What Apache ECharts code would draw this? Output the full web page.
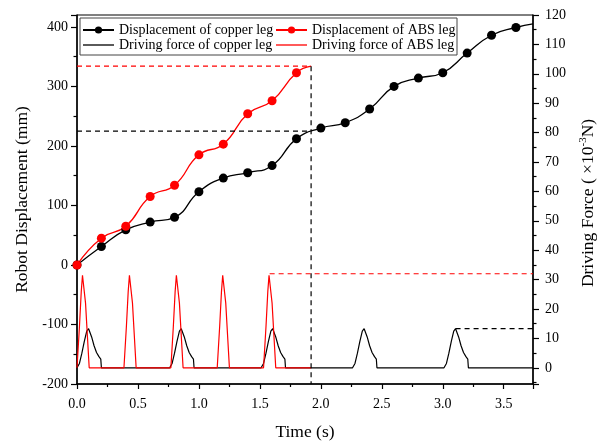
<!DOCTYPE html>
<html>
<head>
<meta charset="utf-8">
<script src="https://cdn.jsdelivr.net/npm/echarts@6/dist/echarts.min.js"></script>
<style>
html, body { margin: 0; padding: 0; background: #fff; }
#chart { width: 599px; height: 441px; }
</style>
</head>
<body>
<div id="chart"></div>
<script>
// robot displacement, sampled every 0.2 s (mm)
var copperTime = [0, 0.2, 0.4, 0.6, 0.8, 1.0, 1.2, 1.4, 1.6, 1.8, 2.0, 2.2, 2.4, 2.6, 2.8, 3.0, 3.2, 3.4, 3.6]
var copperDisp = [0, 31, 59, 72, 80, 123, 146, 155, 167, 212, 230, 239, 262, 300, 314, 323, 356, 386, 399]
var copperTail = [3.74, 405]
var absTime = [0, 0.2, 0.4, 0.6, 0.8, 1.0, 1.2, 1.4, 1.6, 1.8]
var absDisp = [0, 45, 65, 115, 134, 185, 203, 254, 276, 323]
var absTail = [1.92, 334]
// copper displacement at the moment the ABS run stops
var copperAtAbsEnd = 225

// driving force (x10^-3 N)
var copperForceTime = [
    0, 0.02, 0.04, 0.06, 0.08, 0.095, 0.105, 0.12, 0.14, 0.16, 0.18, 0.195, 0.2,
    0.76, 0.78, 0.80, 0.82, 0.84, 0.855, 0.865, 0.88, 0.90, 0.92, 0.94, 0.955, 0.96,
    1.51, 1.53, 1.55, 1.57, 1.59, 1.605, 1.615, 1.63, 1.65, 1.67, 1.69, 1.705, 1.71,
    2.26, 2.28, 2.30, 2.32, 2.34, 2.355, 2.365, 2.38, 2.40, 2.42, 2.44, 2.455, 2.46,
    3.01, 3.03, 3.05, 3.07, 3.09, 3.105, 3.115, 3.13, 3.15, 3.17, 3.19, 3.205, 3.21,
    3.74
]
var copperForce = [
    0, 1.5, 5, 9, 12.5, 13.3, 12.7, 10.5, 7.5, 5.2, 3.8, 3, 0,
    0, 1.5, 5, 9, 12.5, 13.3, 12.7, 10.5, 7.5, 5.2, 3.8, 3, 0,
    0, 1.5, 5, 9, 12.5, 13.3, 12.7, 10.5, 7.5, 5.2, 3.8, 3, 0,
    0, 1.5, 5, 9, 12.5, 13.3, 12.7, 10.5, 7.5, 5.2, 3.8, 3, 0,
    0, 1.5, 5, 9, 12.5, 13.3, 12.7, 10.5, 7.5, 5.2, 3.8, 3, 0,
    0
]
var absForceTime = [
    0, 0.02, 0.035, 0.045, 0.05, 0.057, 0.07, 0.085, 0.1,
    0.385, 0.405, 0.42, 0.43, 0.435, 0.442, 0.455, 0.47, 0.485,
    0.77, 0.79, 0.805, 0.815, 0.82, 0.827, 0.84, 0.855, 0.87,
    1.15, 1.17, 1.185, 1.195, 1.2, 1.207, 1.22, 1.235, 1.25,
    1.53, 1.55, 1.565, 1.575, 1.58, 1.587, 1.60, 1.615, 1.63,
    1.92
]
var absForce = [
    0, 14, 26, 31.5, 32, 31, 22, 11, 0,
    0, 14, 26, 31.5, 32, 31, 22, 11, 0,
    0, 14, 26, 31.5, 32, 31, 22, 11, 0,
    0, 14, 26, 31.5, 32, 31, 22, 11, 0,
    0, 14, 26, 31.5, 32, 31, 22, 11, 0,
    0
]
var absForcePeakTime = 1.58
var copperForcePeakTime = 3.105

var xMax = 3.74
var yMin = -200

function pairs(ts, vs) {
    return ts.map(function (t, i) { return [t, vs[i]] })
}

var serif = 'Liberation Serif'
var dash = { type: [5, 4], width: 1.2 }
// plain line icon for the force series (no marker)
var lineIcon = 'path://M0,0H31V1.3H0Z'
var legendText = { fontFamily: serif, fontSize: 14, color: '#000', lineHeight: 14 }

var chart = echarts.init(document.getElementById('chart'))

var option = {
    animation: false,
    backgroundColor: '#fff',
    textStyle: { fontFamily: serif },
    grid: {
        left: 77, right: 66, top: 15, bottom: 57,
        outerBoundsMode: 'none',
        show: true, borderColor: '#000', borderWidth: 1
    },
    legend: [{
        left: 82, top: 23, orient: 'vertical', padding: 0,
        itemWidth: 31, itemHeight: 9, itemGap: 1,
        textStyle: legendText,
        data: [
            { name: 'Displacement of copper leg' },
            { name: 'Driving force of copper leg', icon: lineIcon }
        ]
    }, {
        left: 275, top: 23, orient: 'vertical', padding: 0,
        itemWidth: 31, itemHeight: 9, itemGap: 1,
        textStyle: legendText,
        data: [
            { name: 'Displacement of ABS leg' },
            { name: 'Driving force of ABS leg', icon: lineIcon }
        ]
    }],
    graphic: [{
        type: 'rect',
        shape: { x: 80, y: 18, width: 377, height: 37 },
        style: { fill: 'transparent', stroke: '#444', lineWidth: 1 }
    }, {
        type: 'text',
        x: 588, y: 203, rotation: Math.PI / 2,
        style: {
            text: 'Driving Force ( ×10{sup|-3}N)',
            fontFamily: serif, fontSize: 17.5, fill: '#000',
            align: 'center', verticalAlign: 'middle',
            rich: { sup: { fontFamily: serif, fontSize: 11, fill: '#000', padding: [0, 0, 9, 0] } }
        }
    }],
    xAxis: {
        type: 'value',
        min: 0, max: xMax, interval: 0.5,
        name: 'Time (s)', nameLocation: 'middle', nameGap: 39,
        nameTextStyle: { fontFamily: serif, fontSize: 17.5, color: '#000' },
        axisLine: { onZero: false, lineStyle: { color: '#000', width: 1.5 } },
        axisTick: { inside: false, length: 5, lineStyle: { color: '#000', width: 1.2 } },
        minorTick: { show: true, splitNumber: 2, length: 3, lineStyle: { color: '#000', width: 1.2 } },
        splitLine: { show: false },
        axisLabel: {
            fontFamily: serif, fontSize: 14, color: '#000', margin: 13,
            showMaxLabel: false,
            formatter: function (v) { return v.toFixed(1) }
        }
    },
    yAxis: [{
        type: 'value',
        min: yMin, max: 420, interval: 100,
        name: 'Robot Displacement (mm)', nameLocation: 'middle', nameGap: 36, nameRotate: 90,
        nameTextStyle: { fontFamily: serif, fontSize: 17.5, color: '#000' },
        axisLine: { show: true, onZero: false, lineStyle: { color: '#000', width: 1.5 } },
        axisTick: { show: true, length: 6, lineStyle: { color: '#000', width: 1.2 } },
        minorTick: { show: true, splitNumber: 2, length: 3.5, lineStyle: { color: '#000', width: 1.2 } },
        splitLine: { show: false },
        axisLabel: { fontFamily: serif, fontSize: 14, color: '#000', margin: 9, showMaxLabel: false }
    }, {
        type: 'value',
        position: 'right',
        min: -5.5, max: 120, splitNumber: 12,
        axisLine: { show: true, onZero: false, lineStyle: { color: '#000', width: 1.5 } },
        axisTick: { show: true, length: 6, lineStyle: { color: '#000', width: 1.2 } },
        minorTick: { show: true, splitNumber: 2, length: 3.5, lineStyle: { color: '#000', width: 1.2 } },
        splitLine: { show: false },
        axisLabel: { fontFamily: serif, fontSize: 14, color: '#000', margin: 12, showMinLabel: false }
    }],
    series: [{
        name: 'Displacement of copper leg',
        type: 'line',
        smooth: 0.5,
        symbol: 'circle', symbolSize: 9,
        color: '#000',
        lineStyle: { color: '#000', width: 1.3 },
        data: pairs(copperTime, copperDisp).concat([{ value: copperTail, symbol: 'none' }])
    }, {
        name: 'Displacement of ABS leg',
        type: 'line',
        smooth: 0.5,
        symbol: 'circle', symbolSize: 9,
        color: '#ff0000',
        lineStyle: { color: '#ff0000', width: 1.3 },
        data: pairs(absTime, absDisp).concat([{ value: absTail, symbol: 'none' }])
    }, {
        name: 'Driving force of copper leg',
        type: 'line',
        yAxisIndex: 1,
        symbol: 'none',
        color: '#000',
        lineStyle: { color: '#000', width: 1.2 },
        data: pairs(copperForceTime, copperForce)
    }, {
        name: 'Driving force of ABS leg',
        type: 'line',
        yAxisIndex: 1,
        symbol: 'none',
        color: '#ff0000',
        lineStyle: { color: '#ff0000', width: 1.2 },
        data: pairs(absForceTime, absForce)
    }, {
        // guides: where the ABS run stops
        type: 'line', symbol: 'none', silent: true,
        lineStyle: Object.assign({ color: '#ff0000' }, dash),
        data: [[0, absTail[1]], absTail]
    }, {
        type: 'line', symbol: 'none', silent: true,
        lineStyle: Object.assign({ color: '#000' }, dash),
        data: [[0, copperAtAbsEnd], [absTail[0], copperAtAbsEnd]]
    }, {
        type: 'line', symbol: 'none', silent: true,
        lineStyle: Object.assign({ color: '#000' }, dash),
        data: [absTail, [absTail[0], yMin]]
    }, {
        type: 'line', symbol: 'none', silent: true, yAxisIndex: 1,
        lineStyle: Object.assign({ color: '#ff0000' }, dash),
        data: [[absForcePeakTime, 32], [xMax, 32]]
    }, {
        type: 'line', symbol: 'none', silent: true, yAxisIndex: 1,
        lineStyle: Object.assign({ color: '#000' }, dash),
        data: [[copperForcePeakTime, 13.3], [xMax, 13.3]]
    }]
}

chart.setOption(option)
</script>
</body>
</html>
